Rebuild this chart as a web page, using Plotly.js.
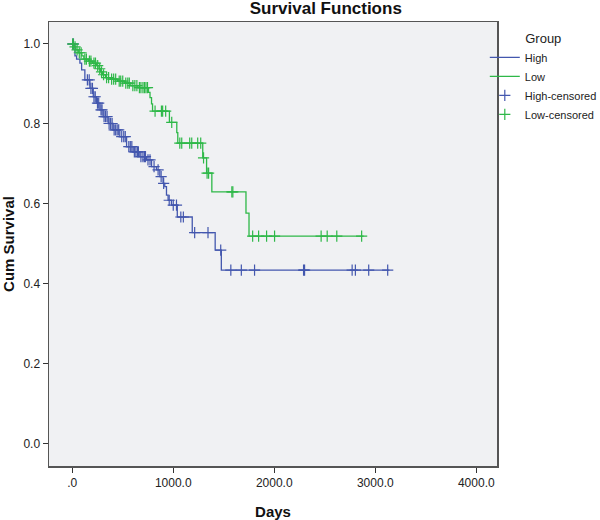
<!DOCTYPE html>
<html>
<head>
<meta charset="utf-8">
<script src="https://cdn.plot.ly/plotly-3.0.1.min.js"></script>
<style>html,body{margin:0;padding:0;background:#fff;}#chart{width:600px;height:520px;}</style>
</head>
<body>
<div id="chart"></div>
<script>
// ---- data ----
var groupNames = ["High", "Low", "High-censored", "Low-censored"];

var highTimes = [0, 27, 43, 76, 93, 125, 175, 208, 241, 274, 306, 356, 405, 471, 538, 603, 669, 735, 785, 834, 867, 899, 916, 933, 949, 982, 1040, 1188, 1415, 1476, 3140];
var highSurv  = [1.0, 0.970, 0.962, 0.952, 0.935, 0.910, 0.889, 0.868, 0.852, 0.835, 0.818, 0.801, 0.785, 0.768, 0.743, 0.730, 0.718, 0.710, 0.693, 0.685, 0.668, 0.651, 0.643, 0.622, 0.609, 0.597, 0.567, 0.528, 0.484, 0.434, 0.434];
var highCensored = [5, 12, 150, 168, 185, 200, 215, 228, 250, 262, 285, 295, 315, 330, 345, 365, 380, 395, 415, 430, 445, 460, 490, 510, 525, 560, 575, 590, 615, 630, 645, 655, 680, 700, 715, 725, 750, 770, 810, 850, 880, 905, 960, 1000, 1032, 1075, 1100, 1212, 1344, 1470, 1570, 1674, 1805, 2290, 2300, 2771, 2803, 2935, 3123];

var lowTimes = [0, 20, 35, 60, 95, 115, 160, 200, 240, 265, 280, 300, 330, 380, 450, 520, 580, 650, 755, 770, 785, 795, 962, 1035, 1045, 1292, 1330, 1382, 1720, 1750, 2885];
var lowSurv  = [1.0, 0.993, 0.985, 0.978, 0.970, 0.962, 0.957, 0.952, 0.946, 0.938, 0.930, 0.923, 0.916, 0.912, 0.907, 0.902, 0.896, 0.891, 0.879, 0.866, 0.850, 0.832, 0.804, 0.778, 0.752, 0.715, 0.677, 0.630, 0.577, 0.519, 0.519];
var lowCensored = [5, 10, 28, 48, 70, 88, 125, 140, 170, 185, 215, 230, 252, 272, 290, 310, 340, 360, 390, 410, 430, 465, 480, 500, 530, 550, 565, 600, 620, 640, 665, 680, 700, 715, 730, 745, 820, 883, 895, 925, 985, 1065, 1084, 1163, 1183, 1242, 1272, 1300, 1335, 1350, 1580, 1590, 1786, 1845, 1924, 2003, 2464, 2524, 2619, 2865];

var xTickVals = [0, 1000, 2000, 3000, 4000];
var xTickText = [".0", "1000.0", "2000.0", "3000.0", "4000.0"];
var yTickVals = [0, 0.2, 0.4, 0.6, 0.8, 1.0];
var yTickText = ["0.0", "0.2", "0.4", "0.6", "0.8", "1.0"];

// ---- helpers ----
function survAt(times, surv, t) {
  var s = surv[0];
  for (var i = 0; i < times.length; i++) { if (times[i] <= t) s = surv[i]; }
  return s;
}

var blue = "#4357AE", green = "#2EB848";
var fontFam = "Liberation Sans, Arial, sans-serif";

var traces = [
  {x: highTimes, y: highSurv, name: groupNames[0], mode: "lines", line: {shape: "hv", color: blue, width: 1.3}},
  {x: lowTimes, y: lowSurv, name: groupNames[1], mode: "lines", line: {shape: "hv", color: green, width: 1.3}},
  {x: highCensored, y: highCensored.map(function(t){return survAt(highTimes, highSurv, t);}), name: groupNames[2], mode: "markers",
   marker: {symbol: "cross-thin", size: 8, color: blue, line: {color: blue, width: 1.2}}},
  {x: lowCensored, y: lowCensored.map(function(t){return survAt(lowTimes, lowSurv, t);}), name: groupNames[3], mode: "markers",
   marker: {symbol: "cross-thin", size: 8, color: green, line: {color: green, width: 1.2}}}
];

var layout = {
  width: 600, height: 520,
  margin: {l: 49, r: 103, t: 22, b: 54, autoexpand: false},
  paper_bgcolor: "#ffffff",
  plot_bgcolor: "#F0F1F3",
  font: {family: fontFam, size: 12, color: "#222"},
  title: {text: "Survival Functions", font: {size: 17, weight: "bold", color: "#111"},
          xref: "container", yref: "container", x: 0.543, xanchor: "center", y: 0.984, yanchor: "middle"},
  xaxis: {
    range: [-230, 4205], tickvals: xTickVals, ticktext: xTickText,
    showgrid: false, zeroline: false, showline: true, mirror: true, linecolor: "#555", linewidth: 1.5,
    ticks: "outside", ticklen: 5, tickcolor: "#333", tickfont: {size: 12, color: "#222"},
    title: {text: "Days", font: {size: 15, weight: "bold", color: "#111"}, standoff: 17}
  },
  yaxis: {
    range: [-0.056, 1.055], tickvals: yTickVals, ticktext: yTickText,
    showgrid: false, zeroline: false, showline: true, mirror: true, linecolor: "#555", linewidth: 1.5,
    ticks: "outside", ticklen: 5, tickcolor: "#333", tickfont: {size: 12, color: "#222"},
    title: {text: "Cum Survival", font: {size: 15, weight: "bold", color: "#111"}, standoff: 8}
  },
  showlegend: true,
  legend: {
    xref: "container", yref: "container",
    x: 0.808, xanchor: "left", y: 0.95, yanchor: "top",
    bgcolor: "rgba(0,0,0,0)", font: {size: 11, color: "#222"},
    itemwidth: 30, tracegroupgap: 0,
    title: {text: "Group", side: "top center", font: {size: 13, color: "#222"}}
  }
};

Plotly.newPlot("chart", traces, layout, {displayModeBar: false, staticPlot: true});
</script>
</body>
</html>
